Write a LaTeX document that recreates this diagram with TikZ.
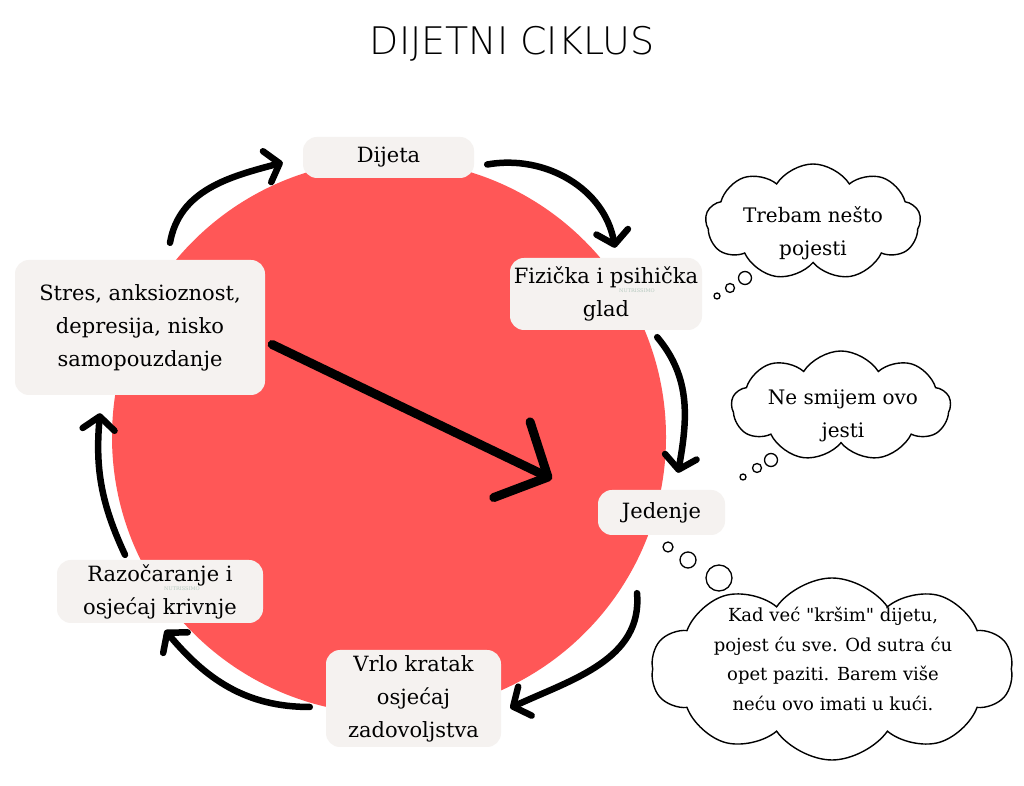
\documentclass[tikz,border=0pt]{standalone}
\usepackage{fontspec}
\setmainfont{DejaVu Serif}
\newfontfamily\naslovfont{DejaVu Sans ExtraLight}
\newfontfamily\ravnifont{DejaVu Serif}[Ligatures=TeXOff]
\usepackage{tikz}
\usetikzlibrary{arrows.meta}
\usetikzlibrary{shapes.symbols}
\definecolor{krug}{HTML}{FF5757}
\definecolor{kutija}{HTML}{F5F2F0}
\definecolor{zig}{HTML}{B4C8BE}

\begin{document}
\begin{tikzpicture}[x=1pt, y=1pt,
  kutija/.style={fill=kutija, rounded corners=14pt, align=center, inner sep=0pt,
    font=\fontsize{21}{33}\selectfont},
  oblak/.style={cloud, draw=black, fill=white, line width=1.4pt, cloud puffs=9,
    cloud puff arc=115, cloud ignores aspect, inner sep=0pt},
  misao/.style={align=center, inner sep=0pt, font=\fontsize{20}{33}\selectfont},
  ciklus/.style={line width=6.5pt, line cap=round,
    -{Straight Barb[length=13pt, width=32pt, round]}},
  mjehur/.style={draw=black, fill=white, line width=1.3pt}]
\fill [white] (0,0) rectangle (1024,786);
\node [font=\naslovfont\fontsize{38}{40}\selectfont] (naslov) at (512,742) {DIJETNI CIKLUS};
\fill [krug] (389,349) circle (277);
\node [kutija, minimum width=171pt, minimum height=41pt] (dijeta) at (388.5,628.5) {Dijeta};
\node [kutija, minimum width=192pt, minimum height=72pt] (glad) at (606,492) {Fizička i psihička\\glad};
\node [kutija, minimum width=127pt, minimum height=45pt] (jedenje) at (661.5,273.5) {Jedenje};
\node [kutija, minimum width=175pt, minimum height=97pt] (zadov) at (413.5,87.5) {Vrlo kratak\\osjećaj\\zadovoljstva};
\node [kutija, minimum width=206pt, minimum height=63pt] (razoc) at (160,194.5) {Razočaranje i\\osjećaj krivnje};
\node [kutija, minimum width=250pt, minimum height=135pt] (stres) at (140,458.5) {Stres, anksioznost,\\depresija, nisko\\samopouzdanje};
\node [text=zig, font=\fontsize{5}{6}\selectfont] (zig1) at (182,197) {NUTRISSIMO};
\node [text=zig, font=\fontsize{5}{6}\selectfont] (zig2) at (637,495) {NUTRISSIMO};
\draw [ciklus] ([xshift=30pt,yshift=17pt]stres.north) to[out=80,in=195] ([xshift=-20pt,yshift=-5pt]dijeta.west);
\draw [ciklus] ([xshift=13pt,yshift=-7pt]dijeta.east) to[out=10,in=100] ([xshift=9pt,yshift=10pt]glad.north);
\draw [ciklus] ([xshift=-45pt,yshift=-7pt]glad.south east) to[out=-50,in=80] ([xshift=16.5pt,yshift=17pt]jedenje.north);
\draw [ciklus] ([xshift=-24.5pt,yshift=-58pt]jedenje.south) to[out=-85,in=25] ([xshift=9pt,yshift=-9.5pt]zadov.east);
\draw [ciklus] ([xshift=-16pt,yshift=-8.5pt]zadov.west) to[out=180,in=-50] ([xshift=5pt,yshift=-7pt]razoc.south);
\draw [ciklus] ([xshift=-35pt,yshift=5pt]razoc.north) to[out=115,in=-95] ([xshift=-40pt,yshift=-18pt]stres.south);
\coordinate (vrh) at (552,307);
\draw [line width=9pt, line cap=round, -{Straight Barb[length=40pt, width=84pt, round]}]
  ([xshift=7pt,yshift=-17pt]stres.east) -- (vrh);
% misli
\node [oblak, minimum width=215pt, minimum height=116pt] (o1) at (813,564) {};
\node [misao] (m1) at (813,552.5) {Trebam nešto\\pojesti};
\draw [mjehur] (717,490) circle (3) (730,498) circle (4.5) (745,508) circle (6.5);
\node [oblak, minimum width=219pt, minimum height=110pt] (o2) at (841,380) {};
\node [misao] (m2) at (843,370) {Ne smijem ovo\\jesti};
\draw [mjehur] (743,309) circle (3) (757,318) circle (4.5) (771,326) circle (6.5);
\node [oblak, cloud puffs=10, cloud puff arc=110, minimum width=362pt, minimum height=182pt] (o3) at (832,117) {};
\node [misao, font=\ravnifont\fontsize{18}{29.5}\selectfont] (m3) at (833,127) {Kad već "kršim" dijetu,\\pojest ću sve. Od sutra ću\\opet paziti. Barem više\\neću ovo imati u kući.};
\draw [mjehur] (668,239) circle (5) (688,226) circle (8) (719,208) circle (13);
\end{tikzpicture}
\end{document}
